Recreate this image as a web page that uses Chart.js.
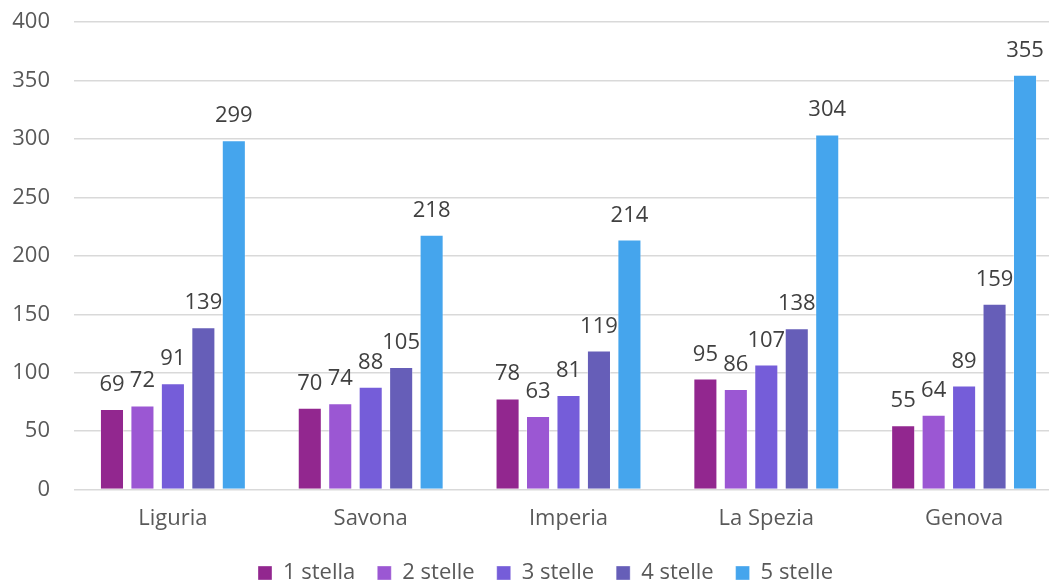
<!DOCTYPE html>
<html>
<head>
<meta charset="utf-8">
<script src="https://cdn.jsdelivr.net/npm/chart.js@4"></script>
<style>
  html, body { margin: 0; padding: 0; background: #fff; overflow: hidden; }
  #wrap { position: absolute; left: 0; top: -15px; width: 1065px; height: 609px; }
</style>
</head>
<body>
<div id="wrap"><canvas id="chart"></canvas></div>
<script>
// categories and series
const provinces = ['Liguria', 'Savona', 'Imperia', 'La Spezia', 'Genova'];
const seriesNames = ['1 stella', '2 stelle', '3 stelle', '4 stelle', '5 stelle'];
const stella1 = [69, 70, 78, 95, 55];
const stelle2 = [72, 74, 63, 86, 64];
const stelle3 = [91, 88, 81, 107, 89];
const stelle4 = [139, 105, 119, 138, 159];
const stelle5 = [299, 218, 214, 304, 355];
const yTicks = [0, 50, 100, 150, 200, 250, 300, 350, 400];

const colors = ['#92278f', '#9b57d3', '#755dd9', '#665eb8', '#45a5ed'];
const FONT = "'Open Sans', sans-serif";

// draws the value above each bar
const valueLabels = {
    id: 'valueLabels',
    afterDatasetsDraw(chart) {
        const ctx = chart.ctx;
        ctx.save();
        ctx.font = '22px ' + FONT;
        ctx.fillStyle = '#404040';
        ctx.textAlign = 'center';
        ctx.textBaseline = 'alphabetic';
        chart.data.datasets.forEach((ds, i) => {
            chart.getDatasetMeta(i).data.forEach((bar, j) => {
                ctx.fillText(String(ds.data[j]), bar.x, bar.y - 18);
            });
        });
        ctx.restore();
    }
};

// the legend sits a bit right of the canvas centre in the original
const legendShift = {
    id: 'legendShift',
    afterLayout(chart) {
        chart.legend.left += 14;
        chart.legend.right += 14;
    }
};

const allSeries = [stella1, stelle2, stelle3, stelle4, stelle5];

new Chart(document.getElementById('chart'), {
    type: 'bar',
    data: {
        labels: provinces,
        datasets: allSeries.map((vals, i) => ({
            label: seriesNames[i],
            data: vals,
            backgroundColor: colors[i],
            borderColor: 'rgba(255,255,255,0.35)',
            borderWidth: 1,
            categoryPercentage: 0.77,
            barPercentage: 0.79,
        })),
    },
    options: {
        responsive: true,
        maintainAspectRatio: false,
        animation: false,
        layout: { padding: { left: 0, right: 2, top: 0, bottom: 0 } },
        plugins: {
            legend: {
                position: 'bottom',
                labels: {
                    color: '#595959',
                    font: { family: FONT, size: 22 },
                    boxWidth: 14,
                    boxHeight: 14,
                    padding: 22,
                },
            },
            tooltip: { enabled: false },
        },
        scales: {
            x: {
                grid: { display: false },
                border: { display: false },
                ticks: { color: '#595959', font: { family: FONT, size: 22 }, padding: 8 },
            },
            y: {
                min: 0,
                max: 400,
                afterBuildTicks(axis) { axis.ticks = yTicks.map(v => ({ value: v })); },
                afterFit(axis) { axis.width = 74; },
                grid: { color: '#d9d9d9', lineWidth: 1.5, drawTicks: false },
                border: { display: false },
                ticks: { color: '#595959', font: { family: FONT, size: 22 }, padding: 24 },
            },
        },
    },
    plugins: [valueLabels, legendShift],
});
</script>
</body>
</html>
